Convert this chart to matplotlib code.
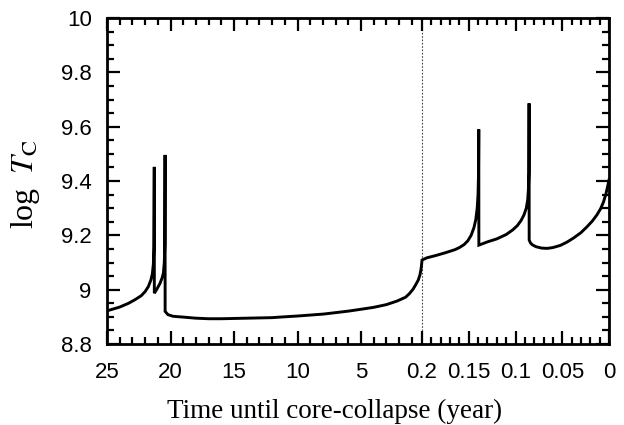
import numpy as np
import matplotlib
matplotlib.use("Agg")
import matplotlib.pyplot as plt
from matplotlib.ticker import FixedLocator, FixedFormatter, MultipleLocator

# ---- data (time until core collapse in years, log T_C) ----
t_years = [25.0, 24.0, 23.3, 22.8, 22.3, 22.0, 21.75, 21.55, 21.43, 21.35, 21.31,
           21.28, 21.275,
           21.1, 20.83, 20.65, 20.56, 20.49, 20.45,
           20.43, 20.425,
           20.2, 19.8, 19.0, 18.0, 17.0, 16.0, 15.0, 14.0, 12.0, 11.4, 10.0, 8.0,
           7.44, 6.0, 4.84, 4.0, 3.0, 2.17, 1.5, 1.2, 0.9, 0.7, 0.5, 0.36, 0.28,
           0.24, 0.22, 0.2,
           0.195, 0.185, 0.175, 0.165, 0.16, 0.155, 0.151, 0.1475, 0.1445, 0.1425,
           0.141, 0.1401, 0.1396, 0.1393, 0.1392,
           0.13, 0.12, 0.11, 0.103, 0.098, 0.094, 0.091, 0.0885, 0.087, 0.0862,
           0.0857, 0.0855, 0.0854,
           0.084, 0.082, 0.078, 0.072, 0.066, 0.06, 0.052, 0.045, 0.038, 0.03,
           0.024, 0.018, 0.013, 0.009, 0.006, 0.0035, 0.0015, 0.0]
log_tc = [8.922, 8.936, 8.950, 8.963, 8.978, 8.993, 9.011, 9.035, 9.058, 9.095, 9.16,
          9.452, 8.987,
          9.000, 9.023, 9.045, 9.062, 9.10, 9.17,
          9.496, 8.920,
          8.908, 8.902, 8.899, 8.895, 8.893, 8.893, 8.894, 8.895, 8.897, 8.899, 8.903, 8.910,
          8.913, 8.921, 8.929, 8.935, 8.945, 8.958, 8.972, 8.985, 9.002, 9.018, 9.035, 9.055, 9.075,
          9.090, 9.100, 9.109,
          9.117, 9.126, 9.136, 9.147, 9.155, 9.166, 9.180, 9.200, 9.228, 9.258,
          9.300, 9.350, 9.420, 9.590, 9.164,
          9.176, 9.187, 9.203, 9.220, 9.236, 9.255, 9.275, 9.300, 9.330, 9.370,
          9.430, 9.686, 9.183,
          9.172, 9.165, 9.158, 9.153, 9.152, 9.155, 9.163, 9.175, 9.190, 9.210,
          9.230, 9.252, 9.275, 9.298, 9.322, 9.350, 9.380, 9.404]

major_ticks = [25, 20, 15, 10, 5, 0.2, 0.15, 0.1, 0.05, 0]
major_labels = ["25", "20", "15", "10", "5", "0.2", "0.15", "0.1", "0.05", "0"]
y_ticks = [8.8, 9.0, 9.2, 9.4, 9.6, 9.8, 10.0]
y_labels = ["8.8", "9", "9.2", "9.4", "9.6", "9.8", "10"]
break_t = 0.2

# ---- piecewise-linear scale (increasing in t): 0..0.2 takes 37.25 %, 0.2..25 the rest ----
FRAC_R = 0.3725
T0 = 25.0


def forward(t):
    t = np.asarray(t, dtype=float)
    right = FRAC_R * t / break_t
    left = FRAC_R + (1 - FRAC_R) * (t - break_t) / (T0 - break_t)
    return np.where(t <= break_t, right, left)


def inverse(u):
    u = np.asarray(u, dtype=float)
    right = u / FRAC_R * break_t
    left = break_t + (u - FRAC_R) / (1 - FRAC_R) * (T0 - break_t)
    return np.where(u <= FRAC_R, right, left)


plt.rcParams['mathtext.fontset'] = 'stix'

fig = plt.figure(figsize=(6.24, 4.25), dpi=100)
ax = fig.add_axes([0.1715, 0.1906, 0.8045, 0.767])
ax.set_xscale('function', functions=(forward, inverse))
ax.set_xlim(25, 0)
ax.set_ylim(8.8, 10)

ax.axvline(break_t, color='#444444', lw=0.8, ls=(0, (1.5, 1.5)), zorder=1)
ax.plot(t_years, log_tc, color='black', lw=2.1, solid_joinstyle='miter', zorder=3)

minor = [float(v) for v in range(24, 0, -1) if v % 5 != 0] + \
        [round(0.01 * k, 2) for k in range(19, 0, -1) if k % 5 != 0]
ax.xaxis.set_major_locator(FixedLocator(major_ticks))
ax.xaxis.set_major_formatter(FixedFormatter(major_labels))
ax.xaxis.set_minor_locator(FixedLocator(minor))
ax.yaxis.set_major_locator(FixedLocator(y_ticks))
ax.yaxis.set_major_formatter(FixedFormatter(y_labels))
ax.yaxis.set_minor_locator(MultipleLocator(0.05))

ax.tick_params(which='both', direction='in', top=True, right=True, width=1.6)
ax.tick_params(which='major', length=9.5)
ax.tick_params(which='minor', length=5)
ax.tick_params(axis='x', which='major', pad=13)
ax.tick_params(axis='y', which='major', pad=11)
for lab in ax.get_xticklabels() + ax.get_yticklabels():
    lab.set_fontfamily('Liberation Sans')
    lab.set_fontsize(16)

for sp in ax.spines.values():
    sp.set_linewidth(2.0)

xl = ax.set_xlabel("Time until core-collapse (year)", fontfamily='Liberation Serif',
                   fontsize=19.5, va='baseline')
ax.xaxis.set_label_coords(0.454, -0.226)
yl = ax.set_ylabel(r"log $\;T_{\mathrm{C}}$", fontfamily='Liberation Serif',
                   fontsize=23, va='center', ha='center')
ax.yaxis.set_label_coords(-0.163, 0.49)

fig.savefig("out.png", dpi=100)
